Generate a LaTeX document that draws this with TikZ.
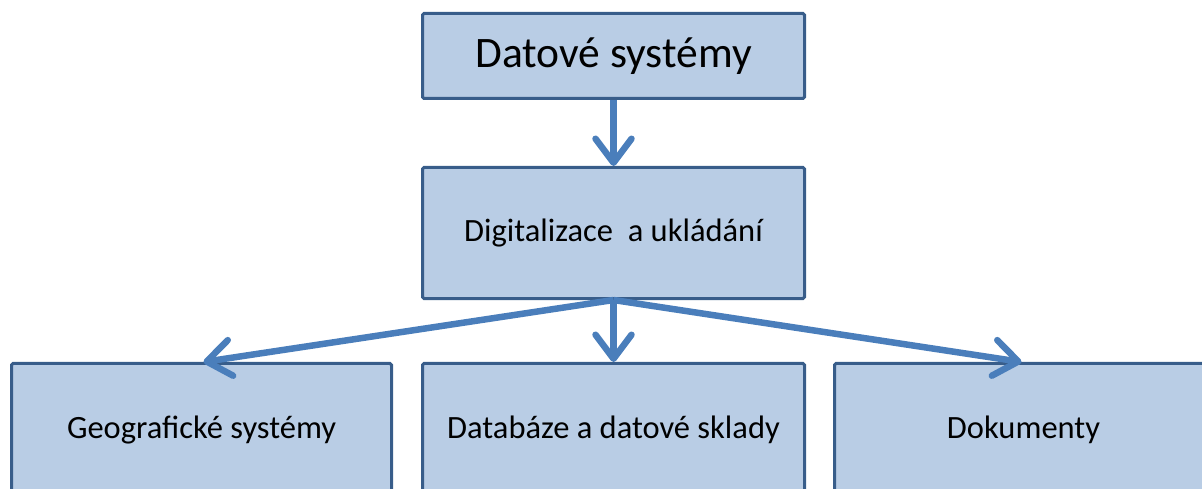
\documentclass[tikz,border=0pt]{standalone}
\usepackage{fontspec}
\setmainfont{Carlito}
\usetikzlibrary{arrows.meta}
\definecolor{boxfill}{HTML}{B9CDE5}
\definecolor{boxline}{HTML}{385D8A}
\definecolor{arrowc}{HTML}{4A7EBB}
\tikzset{
  box/.style={draw=boxline, fill=boxfill, line width=3bp, rounded corners=1.5bp, inner sep=0pt, anchor=north west, align=center},
  conn/.style={draw=arrowc, line width=6.5bp, -{Straight Barb[length=24bp, width=36bp, round]}},
  bigtext/.style={font=\fontsize{43.5bp}{47bp}\selectfont},
  smalltext/.style={font=\fontsize{32.5bp}{36bp}\selectfont}
}
\begin{document}
\begin{tikzpicture}[x=1bp, y=-1bp]
\useasboundingbox (0,0) rectangle (1202,489);
\clip (0,0) rectangle (1202,489);
\node[box, bigtext, minimum width=382bp, minimum height=85bp] (top) at (421,12) {Datové systémy};
\node[box, smalltext, minimum width=382bp, minimum height=131bp] (mid) at (421,166) {Digitalizace\ \ a ukládání};
\node[box, smalltext, minimum width=380bp, minimum height=133bp] (geo) at (10,362) {Geografické systémy};
\node[box, smalltext, minimum width=382bp, minimum height=133bp] (db) at (421,362) {Databáze a datové sklady};
\node[box, smalltext, minimum width=378bp, minimum height=133bp] (doc) at (833,362) {Dokumenty};
\draw[conn] (top.south) -- (mid.north);
\draw[conn] (mid.south) -- (db.north);
\draw[conn] (mid.south) -- ([xshift=2bp]geo.north);
\draw[conn] (mid.south) -- ([xshift=-2bp]doc.north);
\end{tikzpicture}
\end{document}
